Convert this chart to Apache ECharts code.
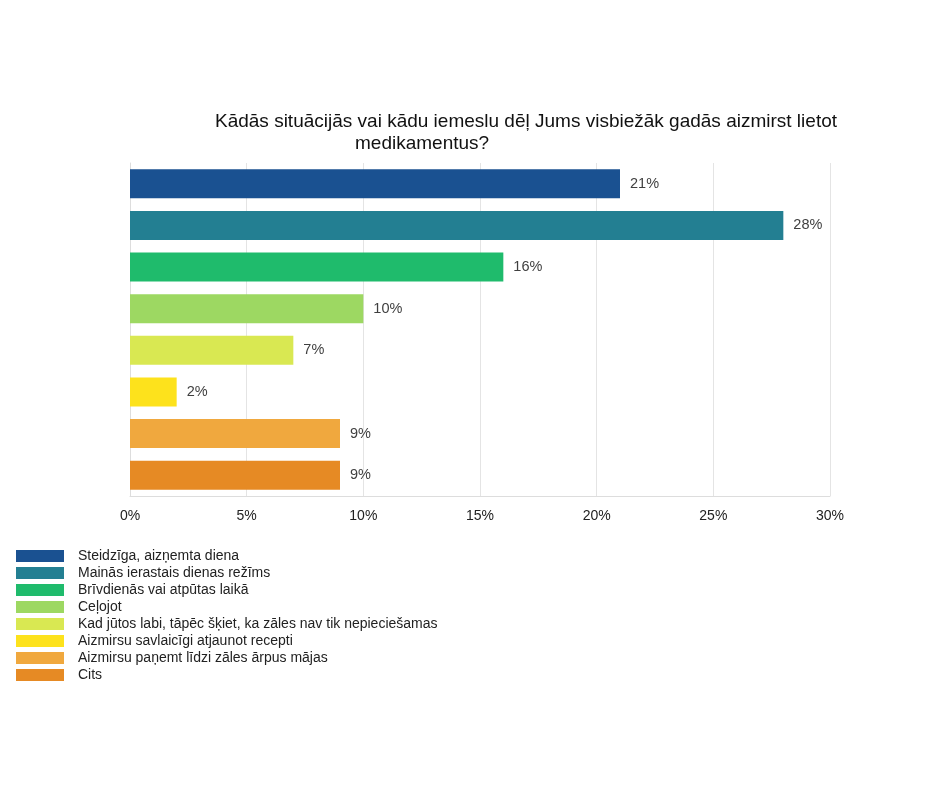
<!DOCTYPE html>
<html>
<head>
<meta charset="utf-8">
<script src="https://cdn.jsdelivr.net/npm/echarts@6/dist/echarts.min.js"></script>
<style>
  html, body { margin: 0; padding: 0; background: #fff; }
  #chart { width: 940px; height: 788px; }
</style>
</head>
<body>
<div id="chart"></div>
<script>
const categories = [
  "Steidzīga, aizņemta diena",
  "Mainās ierastais dienas režīms",
  "Brīvdienās vai atpūtas laikā",
  "Ceļojot",
  "Kad jūtos labi, tāpēc šķiet, ka zāles nav tik nepieciešamas",
  "Aizmirsu savlaicīgi atjaunot recepti",
  "Aizmirsu paņemt līdzi zāles ārpus mājas",
  "Cits"
];
const values = [21, 28, 16, 10, 7, 2, 9, 9];
const colors = ["#1a5191", "#237f92", "#1fbb6c", "#9dd862", "#d9e852", "#fde21c", "#f0a83e", "#e68a24"];
const xTicks = [0, 5, 10, 15, 20, 25, 30];

const chart = echarts.init(document.getElementById("chart"));

// one series per answer so the legend gets every colour; barGap -100% keeps them on one slot
const series = categories.map((name, i) => ({
  name: name,
  type: "bar",
  barWidth: 29,
  barGap: "-100%",
  itemStyle: { color: colors[i] },
  label: {
    show: true,
    position: "right",
    distance: 10,
    formatter: "{c}%",
    color: "#3f3f3f",
    fontSize: 14.5,
    fontFamily: "Liberation Sans"
  },
  data: categories.map((c, j) => (j === i ? values[i] : null))
}));

chart.setOption({
  backgroundColor: "#fff",
  animation: false,
  textStyle: { fontFamily: "Liberation Sans" },
  title: [
    {
      text: "Kādās situācijās vai kādu iemeslu dēļ Jums visbiežāk gadās aizmirst lietot",
      left: 210, top: 107,
      textStyle: { fontSize: 19, fontWeight: "normal", color: "#111", fontFamily: "Liberation Sans" }
    },
    {
      text: "medikamentus?",
      left: 350, top: 129,
      textStyle: { fontSize: 19, fontWeight: "normal", color: "#111", fontFamily: "Liberation Sans" }
    }
  ],
  legend: {
    orient: "vertical",
    left: 11, top: 544,
    itemWidth: 48, itemHeight: 12, itemGap: 3,
    icon: "rect",
    data: categories,
    textStyle: { fontSize: 14, color: "#222", padding: [0, 0, 0, 9] }
  },
  grid: { left: 130, right: 110, top: 163, bottom: 292, containLabel: false },
  xAxis: {
    type: "value",
    min: xTicks[0], max: xTicks[xTicks.length - 1], interval: 5,
    axisLabel: { formatter: "{value}%", color: "#222", fontSize: 14, margin: 13 },
    axisLine: { show: true, lineStyle: { color: "#ddd" } },
    axisTick: { show: false },
    splitLine: { show: true, lineStyle: { color: "#e4e4e4" } }
  },
  yAxis: {
    type: "category",
    inverse: true,
    data: categories,
    axisLabel: { show: false },
    axisTick: { show: false },
    axisLine: { show: true, lineStyle: { color: "#ddd" } }
  },
  series: series
});
</script>
</body>
</html>
